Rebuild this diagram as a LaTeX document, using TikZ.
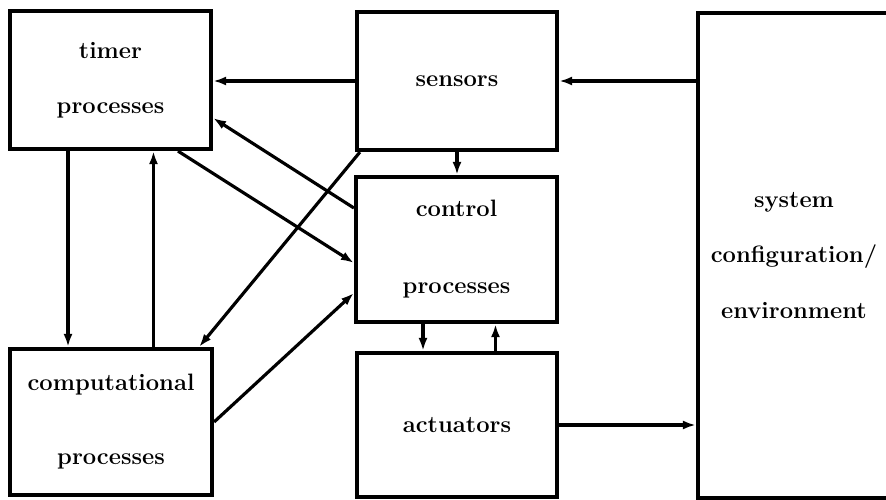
\documentclass[tikz,border=0pt]{standalone}
\usepackage{tikz}
\usetikzlibrary{arrows.meta}
\begin{document}
\begin{tikzpicture}[x=0.02cm,y=-0.02cm,
  blk/.style={draw, line width=2.4pt, inner sep=0pt, align=center, font=\fontsize{13.5}{16}\selectfont\bfseries},
  flow/.style={line width=1.8pt, -{Latex[length=2.6mm, width=1.8mm]}}]
\useasboundingbox (0,0) rectangle (886,500);
\node[blk, minimum width=4.02cm, minimum height=2.76cm] (timer) at (110.5,80) {timer\\[0.54cm]processes};
\node[blk, minimum width=4.04cm, minimum height=2.92cm] (comp) at (111,422) {computational\\[0.92cm]processes};
\node[blk, minimum width=4.0cm, minimum height=2.76cm] (sensors) at (457,81) {sensors};
\node[blk, minimum width=4.02cm, minimum height=2.9cm] (control) at (456.5,249.5) {control\\[0.98cm]processes};
\node[blk, minimum width=4.0cm, minimum height=2.88cm] (actuators) at (457,425) {actuators};
\node[blk, minimum width=3.84cm, minimum height=9.7cm] (system) at (794,255.5) {system\\[0.54cm]configuration/\\[0.54cm]environment};
\draw[flow] (sensors.west) -- (sensors.west -| timer.east);
\draw[flow] (system.west |- sensors.east) -- (sensors.east);
\draw[flow] (actuators.east) -- (actuators.east -| system.west);
\draw[flow] ([xshift=-0.85cm]timer.south) -- ([xshift=-0.85cm]timer.south |- comp.north);
\draw[flow] ([xshift=0.85cm]comp.north) -- ([xshift=0.85cm]comp.north |- timer.south);
\draw[flow] ([yshift=0.83cm]control.west) -- ([yshift=-0.76cm]timer.east);
\draw[flow] ([xshift=1.35cm]timer.south) -- ([yshift=-0.27cm]control.west);
\draw[flow] ([xshift=0.1cm]sensors.south west) -- ([xshift=-0.3cm]comp.north east);
\draw[flow] (comp.east) -- ([yshift=-0.87cm]control.west);
\draw[flow] (sensors.south) -- (sensors.south |- control.north);
\draw[flow] ([xshift=-0.67cm]control.south) -- ([xshift=-0.67cm]control.south |- actuators.north);
\draw[flow] ([xshift=0.77cm]actuators.north) -- ([xshift=0.77cm]actuators.north |- control.south);
\end{tikzpicture}
\end{document}
